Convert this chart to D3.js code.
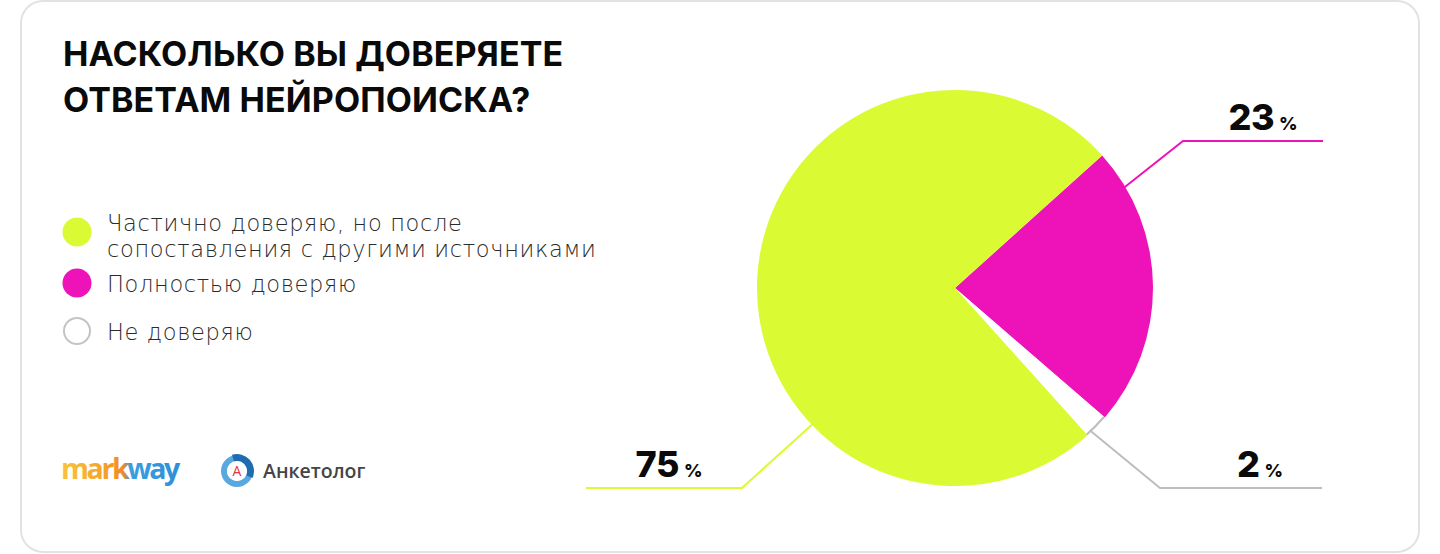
<!DOCTYPE html>
<html><head><meta charset="utf-8">
<script src="https://cdn.jsdelivr.net/npm/d3@7"></script>
<style>body{margin:0;background:#fff;} svg{display:block}</style>
</head><body><svg id="chart" width="1440" height="554"></svg>
<script>
// ---- data ----
const titleLines = ["НАСКОЛЬКО ВЫ ДОВЕРЯЕТЕ", "ОТВЕТАМ НЕЙРОПОИСКА?"];
const categories = ["Полностью доверяю", "Не доверяю", "Частично доверяю, но после сопоставления с другими источниками"];
const values = [23, 2, 75];
const sliceColors = ["#ee13b8", "#ffffff", "#dafa33"];
const lineColors = ["#ee13b8", "#bdbdbd", "#dafa33"];
const legendOrder = [2, 0, 1];
const legendLines = [["Частично доверяю, но после", "сопоставления с другими источниками"], ["Полностью доверяю"], ["Не доверяю"]];
const logoTexts = ["markway", "Анкетолог"];

// ---- layout ----
const W = 1440, H = 554;
const cx = 955, cy = 288, R = 198;
const startDeg = 48;
const anchorFrac = [0.137, 0.8, 0.327];          // where the leader leaves the slice
const elbow = [[228, -147], [205, 200], [-213, 200]]; // relative to pie center
const lineEnd = [368, 367, -369];
const labelShift = [10, 19, 5];

const svg = d3.select("#chart");

// card
svg.append("rect").attr("x", 21).attr("y", 1).attr("width", 1398).attr("height", 551)
  .attr("rx", 22).attr("fill", "#fff").attr("stroke", "#e2e2e2").attr("stroke-width", 2);

// title
const title = svg.append("text").attr("x", 63).attr("y", 66)
  .attr("font-family", "Inter, 'Liberation Sans', sans-serif").attr("font-weight", 700)
  .attr("font-size", 34).attr("letter-spacing", 0.1).attr("fill", "#0a0a0a");
titleLines.forEach((t, i) => title.append("tspan").attr("x", 63).attr("y", 66 + i * 46).text(t));

// legend
const legendY = [232, 283, 331];
const lg = svg.append("g");
legendOrder.forEach((idx, i) => {
  const y = legendY[i];
  lg.append("circle").attr("cx", 77).attr("cy", y).attr("r", idx === 1 ? 13 : 14.5)
    .attr("fill", sliceColors[idx])
    .attr("stroke", idx === 1 ? "#c4c4c4" : "none").attr("stroke-width", 2);
  const lines = legendLines[i];
  const t = lg.append("text").attr("font-family", "'DejaVu Sans', sans-serif").attr("font-weight", 300)
    .attr("font-size", 22.5).attr("letter-spacing", 0.65).attr("fill", "#2b2b2b");
  lines.forEach((l, j) => {
    t.append("tspan").attr("x", 107).attr("y", (lines.length > 1 ? y - 1 : y + 9) + j * 26).text(l);
  });
});

// pie
const pie = d3.pie().sort(null).value(d => d)
  .startAngle(startDeg * Math.PI / 180).endAngle(startDeg * Math.PI / 180 + 2 * Math.PI);
const arcs = pie(values);
const arc = d3.arc().innerRadius(0).outerRadius(R);
const pg = svg.append("g").attr("transform", `translate(${cx},${cy})`);
pg.selectAll("path.slice").data(arcs).join("path").attr("class", "slice")
  .attr("d", arc).attr("fill", (d, i) => sliceColors[i]);
// outline of the white slice's outer edge
const white = arcs[1];
const outer = d3.path();
outer.arc(0, 0, R - 1, white.startAngle - Math.PI / 2, white.endAngle - Math.PI / 2);
pg.append("path").attr("d", outer.toString()).attr("fill", "none").attr("stroke", lineColors[1]).attr("stroke-width", 2);

// leaders + labels
arcs.forEach((a, i) => {
  const ang = a.startAngle + anchorFrac[i] * (a.endAngle - a.startAngle);
  const r0 = R - 2;
  const p0 = [Math.sin(ang) * r0, -Math.cos(ang) * r0];
  const p1 = elbow[i];
  const p2 = [lineEnd[i], p1[1]];
  pg.append("path").attr("d", d3.line()([p0, p1, p2]))
    .attr("fill", "none").attr("stroke", lineColors[i]).attr("stroke-width", 2);
  const mid = (p1[0] + p2[0]) / 2 + labelShift[i];
  const lab = pg.append("text").attr("x", mid).attr("y", p1[1] - 11).attr("text-anchor", "middle")
    .attr("font-family", "Inter, 'Liberation Sans', sans-serif").attr("font-weight", 800).attr("fill", "#0a0a0a");
  lab.append("tspan").attr("font-size", 36).attr("letter-spacing", -0.5).text(values[i]);
  lab.append("tspan").attr("font-size", 18).attr("dx", 5).text("%");
});

// logos
const grad = svg.append("defs").append("linearGradient").attr("id", "mw").attr("x1", "0").attr("x2", "1");
[["0%", "#f7c43c"], ["30%", "#f6a92e"], ["52%", "#f08a2a"], ["58%", "#3d9de2"], ["100%", "#2f8fd6"]]
  .forEach(s => grad.append("stop").attr("offset", s[0]).attr("stop-color", s[1]));
svg.append("text").attr("x", 61).attr("y", 479).attr("font-family", "'Open Sans', sans-serif")
  .attr("font-weight", 700).attr("font-size", 28.5).attr("letter-spacing", -2.4)
  .attr("fill", "url(#mw)").text(logoTexts[0]);

const ic = svg.append("g").attr("transform", "translate(237,471)");
ic.append("circle").attr("r", 13).attr("fill", "none").attr("stroke", "#5aa8e2").attr("stroke-width", 6);
ic.append("path").attr("d", d3.arc().innerRadius(10).outerRadius(17).startAngle(-0.3).endAngle(2.0)())
  .attr("fill", "#1f6db0");
ic.append("circle").attr("r", 10).attr("fill", "#fff");
ic.append("text").attr("y", 5).attr("text-anchor", "middle").attr("font-family", "'Open Sans', sans-serif")
  .attr("font-size", 14).attr("fill", "#e2383a").text("А");
svg.append("text").attr("x", 263).attr("y", 478).attr("font-family", "'Open Sans', sans-serif")
  .attr("font-weight", 600).attr("font-size", 19.5).attr("fill", "#454545").text(logoTexts[1]);
</script></body></html>
